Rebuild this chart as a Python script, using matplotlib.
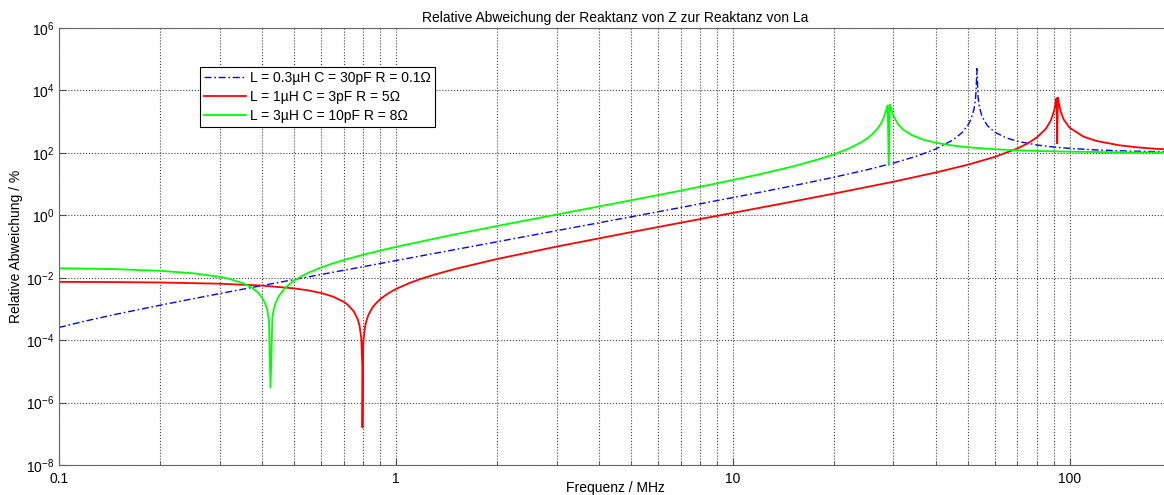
import numpy as np
import matplotlib
matplotlib.use("Agg")
import matplotlib.pyplot as plt
from matplotlib.ticker import FixedLocator, NullFormatter, NullLocator

plt.rcParams['font.family'] = ['Liberation Sans', 'DejaVu Sans']
plt.rcParams['mathtext.fontset'] = 'custom'
plt.rcParams['mathtext.rm'] = 'Liberation Sans'

# frequency in MHz, deviation in %
f_blue = [0.1, 0.12, 0.15, 0.2, 0.25, 0.3, 0.4, 0.5, 0.7, 1, 1.5, 2, 3, 5, 7, 10, 15, 20, 25,
          30, 35, 40, 45, 48, 50, 51, 52, 52.5, 52.8, 53.0, 53.02, 53.1, 53.5, 54, 55, 57,
          60, 65, 70, 80, 90, 100, 120, 150, 200]
d_blue = [2.55e-4, 4.12e-4, 7.0e-4, 1.32e-3, 2.12e-3, 3.10e-3, 5.59e-3, 8.78e-3, 1.73e-2,
          3.54e-2, 7.98e-2, 0.142, 0.321, 0.896, 1.77, 3.68, 8.69, 16.6, 28.6,
          47.0, 77.1, 131.7, 256.5, 451, 795, 1218, 2445, 4720, 10330, 40370, 49800, 42400,
          5977, 2874, 1437, 748, 458, 300, 235, 178.5, 153, 139, 124, 114, 107.6]

f_red = [0.1, 0.15, 0.2, 0.3, 0.4, 0.5, 0.55, 0.6, 0.65, 0.7, 0.72, 0.75, 0.77, 0.78, 0.79,
         0.795, 0.7958, 0.8, 0.81, 0.82, 0.83, 0.85, 0.87, 0.9, 0.95, 1.0, 1.1, 1.2, 1.3,
         1.5, 2, 3, 5, 7, 10, 15, 20, 30, 40, 50, 60, 70, 75,
         80, 85, 88, 90, 91, 91.4, 91.49, 91.88, 92.3, 92.5, 93, 94, 96, 100, 110, 120,
         140, 160, 180, 200]
d_red = [7.38e-3, 7.23e-3, 7.03e-3, 6.43e-3, 5.60e-3, 4.54e-3, 3.92e-3, 3.24e-3, 2.50e-3,
         1.70e-3, 1.36e-3, 8.38e-4, 4.78e-4, 2.95e-4, 1.09e-4,
         1.49e-5, 1.6e-7, 7.95e-5, 2.70e-4, 4.63e-4, 6.59e-4, 1.06e-3, 1.46e-3, 2.09e-3,
         3.19e-3, 4.34e-3, 6.83e-3, 9.55e-3, 1.25e-2,
         1.91e-2, 3.99e-2, 9.91e-2, 0.289, 0.576, 1.19, 2.73, 4.96, 11.9, 23.4, 42.0, 74.3,
         138, 199,
         313, 590, 1094, 2249, 4213, 5538, 5650, 200, 5890, 5386, 3753, 2181, 1184, 641,
         331, 242, 176, 149, 135, 127]

f_green = [0.1, 0.12, 0.15, 0.2, 0.25, 0.3, 0.32, 0.35, 0.37, 0.38, 0.39, 0.4, 0.41, 0.415,
           0.42, 0.4245, 0.43, 0.435, 0.44, 0.45, 0.47, 0.5, 0.55, 0.6, 0.65, 0.7, 0.8, 0.9,
           1, 1.5, 2, 3, 5, 7, 10, 12, 15, 18, 20, 22, 24, 25, 26,
           27, 27.5, 28, 28.5, 28.7, 28.84, 29.055, 29.27, 29.5, 30, 31, 32, 34, 37, 40,
           45, 50, 60, 70, 80, 100, 130, 160, 200]
d_green = [2.01e-2, 1.96e-2, 1.87e-2, 1.66e-2, 1.39e-2, 1.07e-2, 9.21e-3, 6.83e-3, 5.12e-3,
           4.23e-3, 3.32e-3, 2.39e-3, 1.43e-3, 9.39e-4,
           4.54e-4, 3.0e-6, 5.5e-4, 1.06e-3, 1.58e-3, 2.64e-3, 4.82e-3,
           8.26e-3, 1.45e-2, 2.13e-2, 2.87e-2, 3.67e-2, 5.44e-2, 7.46e-2,
           9.70e-2, 0.246, 0.454, 1.055, 3.03, 6.14,
           13.4, 20.5, 36.3, 62.2, 89.9, 134, 214, 284, 399,
           623, 839, 1240, 2183, 2897, 3298, 41, 3548, 2771, 1550, 817, 568, 371, 261, 212,
           171.5, 151, 130.6, 120.8, 115.2, 109.2, 105.3, 103.2, 102.1]

labels = ['L = 0.3µH C = 30pF R = 0.1Ω',
          'L = 1µH C = 3pF R = 5Ω',
          'L = 3µH C = 10pF R = 8Ω']

fig = plt.figure(figsize=(11.64, 4.95), dpi=100)
ax = fig.add_axes([59/1164, 30/495, 1112/1164, 437/495])

ax.loglog(f_blue, d_blue, color='#0000ff', lw=1.0, ls=(0, (5, 2, 1.2, 2)), label=labels[0])
ax.loglog(f_red, d_red, color='#ff0000', lw=1.3, label=labels[1])
ax.loglog(f_green, d_green, color='#00ff00', lw=1.3, label=labels[2])

ax.set_xlim(0.1, 200)
ax.set_ylim(1e-8, 1e6)

ax.xaxis.set_major_locator(FixedLocator([0.1, 1, 10, 100]))
ax.set_xticklabels(['0.1', '1', '10', '100'])
minors = [m * 10.0**e for e in range(-1, 3) for m in range(2, 10)]
ax.xaxis.set_minor_locator(FixedLocator(minors))
ax.xaxis.set_minor_formatter(NullFormatter())
ax.yaxis.set_major_locator(FixedLocator([10.0**e for e in range(-8, 7, 2)]))
ax.yaxis.set_minor_locator(NullLocator())

ax.tick_params(which='both', direction='in', labelsize=10, color='0.3')
ax.tick_params(which='major', length=5)
ax.tick_params(which='minor', length=3)
ax.tick_params(axis='x', pad=5)
ax.grid(True, which='major', axis='both', ls=':', color='0.25', lw=0.8)
ax.grid(True, which='minor', axis='x', ls=':', color='0.25', lw=0.8)
for s in ax.spines.values():
    s.set_color('0.4')

ax.set_title('Relative Abweichung der Reaktanz von Z zur Reaktanz von La', fontsize=10, pad=4)
ax.set_xlabel('Frequenz / MHz', fontsize=10)
ax.xaxis.set_label_coords(0.5, -0.037)
ax.set_ylabel('Relative Abweichung / %', fontsize=10)
ax.yaxis.set_label_coords(-0.032, 0.5)

leg = ax.legend(loc='upper left', bbox_to_anchor=(0.127, 0.911), fontsize=10,
                fancybox=False, edgecolor='black', framealpha=1, handlelength=3,
                labelspacing=0.35, borderpad=0.3, handletextpad=0.3, borderaxespad=0)
leg.get_frame().set_linewidth(0.8)

plt.savefig('out.png', dpi=100)
